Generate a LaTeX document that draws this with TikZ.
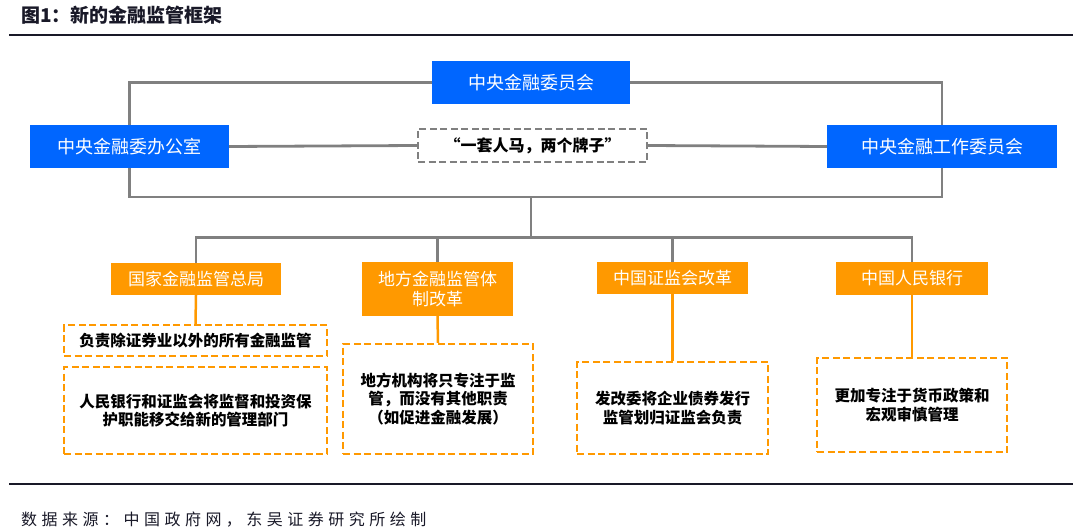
\documentclass[tikz,border=0pt]{standalone}
\usepackage{fontspec}
\setmainfont{Noto Sans CJK SC}
\newfontfamily\cjkspaced[LetterSpace=28]{Noto Sans CJK SC}
\definecolor{bluebox}{RGB}{0,102,255}
\definecolor{orangebox}{RGB}{255,153,0}
\definecolor{linegray}{RGB}{128,128,128}
\definecolor{titlec}{RGB}{25,25,40}
\begin{document}
\begin{tikzpicture}[x=1pt,y=-1pt,
  bluenode/.style={fill=bluebox,draw=none,text=white,inner sep=0pt,
    font=\fontsize{18}{21}\selectfont,minimum height=43pt},
  orangenode/.style={fill=orangebox,draw=none,text=white,inner sep=0pt,align=center,
    font=\fontsize{17}{20}\selectfont},
  graydash/.style={draw=linegray,line width=2.4pt,dash pattern=on 7pt off 3.5pt,
    inner sep=0pt,font=\bfseries\fontsize{16}{19}\selectfont},
  orangedash/.style={draw=orangebox,line width=2.4pt,dash pattern=on 7pt off 3.5pt,
    inner sep=0pt,align=center,text=black,font=\bfseries\fontsize{15.5}{18.5}\selectfont},
  grayconn/.style={draw=linegray,line width=2.8pt},
  orangeconn/.style={draw=orangebox,line width=2.5pt},
  rule/.style={draw=titlec,line width=1.5pt}
]
\useasboundingbox (0,0) rectangle (1080,532);

% title and rules
\node[anchor=west,inner sep=0pt,text=titlec,font=\bfseries\fontsize{19}{22}\selectfont] (title) at (21,15) {图1：新的金融监管框架};
\coordinate (r1a) at (9,35); \coordinate (r1b) at (1073,35);
\draw[rule] (r1a) -- (r1b);
\coordinate (r2a) at (9,484); \coordinate (r2b) at (1073,484);
\draw[rule] (r2a) -- (r2b);
\node[anchor=west,inner sep=0pt,text=titlec,font=\cjkspaced\fontsize{16}{19}\selectfont] (src) at (21,520) {数据来源：中国政府网，东吴证券研究所绘制};

% blue nodes
\node[bluenode,minimum width=198pt] (top) at (531,82.5) {中央金融委员会};
\node[bluenode,minimum width=199pt] (left) at (129.5,146.5) {中央金融委办公室};
\node[bluenode,minimum width=230pt] (right) at (942,146.5) {中央金融工作委员会};
\node[graydash,minimum width=229pt,minimum height=33pt] (dash) at (532.5,145.5) {“一套人马，两个牌子”};

% gray connectors
\coordinate (b1) at (531,197);
\coordinate (b2) at (531,237.5);
\draw[grayconn] (top.west) -| (left.north);
\draw[grayconn] (top.east) -| (right.north);
\draw[grayconn] (left.east) -- (dash.west);
\draw[grayconn] (dash.east) -- (right.west);
\draw[grayconn] (left.south) |- (b1) -| (right.south);
\draw[grayconn] (b1) -- (b2);

% orange nodes
\node[orangenode,minimum width=170pt,minimum height=32pt] (o1) at (196,279) {国家金融监管总局};
\node[orangenode,minimum width=151pt,minimum height=54pt] (o2) at (437.5,289) {地方金融监管体\\制改革};
\node[orangenode,minimum width=151pt,minimum height=32pt] (o3) at (672.5,278) {中国证监会改革};
\node[orangenode,minimum width=152pt,minimum height=33pt] (o4) at (912,278.5) {中国人民银行};

\draw[grayconn] (o1.north) |- (b2) -| (o4.north);
\draw[grayconn] (o2.north) -- (o2.north |- b2);
\draw[grayconn] (o3.north) -- (o3.north |- b2);

% dashed orange boxes
\node[orangedash,minimum width=263pt,minimum height=31pt] (d1a) at (195.5,340.5) {负责除证券业以外的所有金融监管};
\node[orangedash,minimum width=263pt,minimum height=87pt] (d1b) at (195.5,410.5) {人民银行和证监会将监督和投资保\\护职能移交给新的管理部门};
\node[orangedash,minimum width=190pt,minimum height=110pt] (d2) at (438,399) {地方机构将只专注于监\\管，而没有其他职责\\（如促进金融发展）};
\node[orangedash,minimum width=191pt,minimum height=92pt] (d3) at (672.5,408) {发改委将企业债券发行\\监管划归证监会负责};
\node[orangedash,minimum width=190pt,minimum height=94pt] (d4) at (912,405) {更加专注于货币政策和\\宏观审慎管理};

% orange connectors
\draw[orangeconn] (o1.south) -- (d1a.north);
\draw[orangeconn] (o2.south) -- (d2.north);
\draw[orangeconn] (o3.south) -- (d3.north);
\draw[orangeconn] (o4.south) -- (d4.north);
\end{tikzpicture}
\end{document}
